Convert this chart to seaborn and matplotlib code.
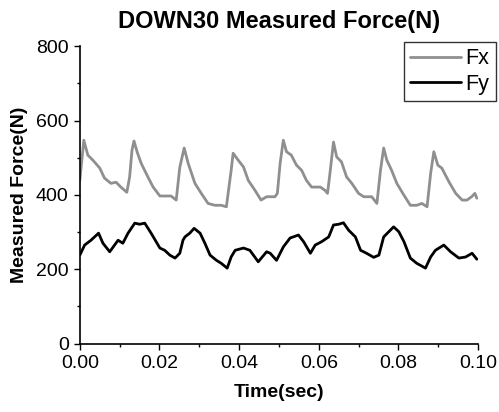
# DOWN30 measured force chart, Fx and Fy over time
import pandas as pd
import numpy as np
import matplotlib.pyplot as plt
import seaborn as sns

# time (sec) and force (N)
fx_time = [0.0000, 0.0010, 0.0020, 0.0033, 0.0050, 0.0062, 0.0078, 0.0091, 0.0103, 0.0118,
           0.0125, 0.0131, 0.0136, 0.0144, 0.0154, 0.0171, 0.0184, 0.0201, 0.0213, 0.0229,
           0.0242, 0.0251, 0.0262, 0.0272, 0.0289, 0.0305, 0.0322, 0.0339, 0.0355, 0.0368,
           0.0380, 0.0385, 0.0398, 0.0411, 0.0423, 0.0440, 0.0455, 0.0469, 0.0490, 0.0496,
           0.0503, 0.0511, 0.0519, 0.0531, 0.0544, 0.0557, 0.0569, 0.0582, 0.0604, 0.0616,
           0.0622, 0.0629, 0.0637, 0.0645, 0.0657, 0.0670, 0.0683, 0.0700, 0.0713, 0.0733,
           0.0746, 0.0755, 0.0763, 0.0771, 0.0783, 0.0796, 0.0814, 0.0830, 0.0846, 0.0859,
           0.0872, 0.0881, 0.0889, 0.0899, 0.0909, 0.0927, 0.0944, 0.0960, 0.0972, 0.0984,
           0.0992, 0.0997]
fx_force = [439, 547, 507, 493, 472, 445, 431, 434, 421, 407,
            448, 520, 545, 515, 485, 448, 421, 397, 397, 397,
            386, 474, 526, 485, 431, 404, 377, 372, 372, 368,
            466, 512, 493, 475, 439, 412, 386, 395, 395, 404,
            485, 547, 516, 507, 480, 466, 439, 421, 421, 412,
            404, 466, 542, 502, 489, 448, 431, 404, 395, 395,
            377, 466, 526, 493, 466, 431, 399, 372, 372, 377,
            368, 458, 516, 480, 472, 435, 404, 386, 386, 395,
            404, 391]

fy_time = [0.0000, 0.0012, 0.0028, 0.0047, 0.0058, 0.0075, 0.0096, 0.0108, 0.0121, 0.0138,
           0.0150, 0.0163, 0.0179, 0.0201, 0.0213, 0.0226, 0.0239, 0.0251, 0.0259, 0.0264,
           0.0276, 0.0287, 0.0302, 0.0314, 0.0327, 0.0343, 0.0355, 0.0370, 0.0380, 0.0390,
           0.0411, 0.0427, 0.0448, 0.0469, 0.0478, 0.0494, 0.0511, 0.0528, 0.0549, 0.0562,
           0.0579, 0.0591, 0.0607, 0.0625, 0.0637, 0.0650, 0.0662, 0.0675, 0.0692, 0.0705,
           0.0720, 0.0738, 0.0751, 0.0763, 0.0776, 0.0788, 0.0801, 0.0814, 0.0830, 0.0846,
           0.0868, 0.0881, 0.0893, 0.0914, 0.0931, 0.0952, 0.0969, 0.0985, 0.0997]
fy_force = [238, 265, 278, 297, 270, 247, 278, 270, 297, 324,
            321, 324, 297, 257, 251, 238, 230, 243, 278, 287,
            297, 310, 297, 270, 238, 224, 216, 203, 233, 251,
            257, 251, 220, 247, 243, 224, 260, 284, 292, 274,
            243, 265, 274, 287, 319, 321, 325, 305, 287, 251,
            243, 232, 238, 287, 301, 314, 301, 274, 230, 216,
            203, 233, 251, 265, 247, 230, 233, 243, 227]

# long table so seaborn can colour by component
df = pd.concat([
    pd.DataFrame({"time": fx_time, "force": fx_force, "comp": "Fx"}),
    pd.DataFrame({"time": fy_time, "force": fy_force, "comp": "Fy"}),
])

sns.set_style("ticks")
plt.rcParams["font.family"] = ["Liberation Sans", "DejaVu Sans"]
plt.rcParams["text.color"] = "black"
plt.rcParams["axes.labelcolor"] = "black"

fig = plt.figure(figsize=(4.99, 4.12), dpi=100)
ax = fig.add_axes([0.160, 0.166, 0.798, 0.722])

sns.lineplot(data=df, x="time", y="force", hue="comp", estimator=None, sort=False,
             palette={"Fx": "#8f8f8f", "Fy": "black"}, linewidth=2, ax=ax, legend=False)

ax.set_xlim(0, 0.1)
ax.set_ylim(0, 800)
ax.set_xticks(np.arange(0, 0.101, 0.02))
ax.set_xticks(np.arange(0.01, 0.1, 0.02), minor=True)
ax.set_yticks(np.arange(0, 801, 200))
ax.set_yticks(np.arange(100, 800, 200), minor=True)
ax.xaxis.set_major_formatter(plt.FormatStrFormatter("%.2f"))
ax.tick_params(which="major", direction="out", length=4, width=1, labelsize=14,
               colors="black", pad=4)
ax.tick_params(which="minor", direction="out", length=2.5, width=1, colors="black")
for s in ["left", "bottom"]:
    ax.spines[s].set_color("black")
    ax.spines[s].set_linewidth(1.2)
sns.despine(ax=ax)

ax.set_title("DOWN30 Measured Force(N)", fontsize=17, fontweight="bold", pad=13)
ax.set_xlabel("Time(sec)", fontsize=14, fontweight="bold", labelpad=9)
ax.set_ylabel("Measured Force(N)", fontsize=14, fontweight="bold", labelpad=6)

# legend box hangs off the right edge like in the reference
h = [plt.Line2D([], [], color="#8f8f8f", lw=2), plt.Line2D([], [], color="black", lw=2)]
leg = fig.legend(h, ["Fx", "Fy"], loc="upper left", bbox_to_anchor=(0.8096, 0.898),
                 fontsize=15.5, frameon=True, fancybox=False, borderpad=0.3,
                 handlelength=2.35, handletextpad=0.2, labelspacing=0.2, borderaxespad=0)
leg.get_frame().set_edgecolor("black")
leg.get_frame().set_linewidth(1)

fig.savefig("out.png", dpi=100)
